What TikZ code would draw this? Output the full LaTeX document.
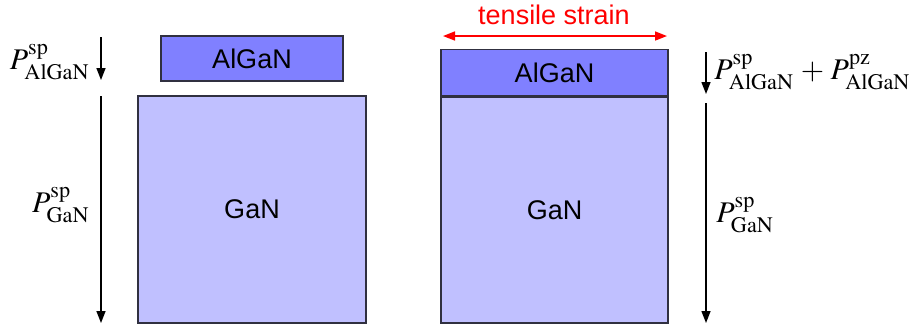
\documentclass[tikz,border=0pt]{standalone}
\usepackage{mathptmx}
\usepackage[no-math]{fontspec}
\setmainfont{Liberation Serif}
\newfontfamily\layerfont{Liberation Sans}
\usetikzlibrary{arrows.meta,positioning}
\definecolor{alganfill}{HTML}{8080FF}
\definecolor{ganfill}{HTML}{C0C0FF}
\definecolor{edgegray}{HTML}{303040}

\begin{document}
\begin{tikzpicture}[x=0.5pt,y=-0.5pt,
    layer/.style={draw=edgegray,line width=0.7pt,inner sep=0pt,
      font=\layerfont\fontsize{13.5}{16}\selectfont},
    pol/.style={-{Triangle[length=6pt,width=4.5pt]},line width=0.7pt},
    lbl/.style={font=\fontsize{15}{18}\selectfont,inner sep=1pt}]
    \useasboundingbox (0,0) rectangle (909,329);

    % Relaxed stack (left)
    \node[layer,fill=alganfill,minimum width=91pt,minimum height=22.5pt] (alganL) at (252,58.5) {AlGaN};
    \node[layer,fill=ganfill,minimum width=114pt,minimum height=113.5pt] (ganL) at (252,209.5) {GaN};

    % Strained stack (right)
    \node[layer,fill=ganfill,minimum width=113.5pt,minimum height=113pt] (ganR) at (554.5,210) {GaN};
    \node[layer,fill=alganfill,minimum width=113.5pt,minimum height=23pt,anchor=south] (alganR) at (ganR.north) {AlGaN};

    % Tensile strain
    \coordinate (strainW) at (443,36);
    \coordinate (strainE) at (667,36);
    \draw[red,line width=0.8pt,{Triangle[length=6pt,width=4.5pt]}-{Triangle[length=6pt,width=4.5pt]}] (strainW) -- (strainE);
    \node[red,font=\layerfont\fontsize{13.5}{16}\selectfont] (strain) at (554,15) {tensile strain};

    % Polarization arrows (left)
    \coordinate (pAlL1) at (101,37);
    \coordinate (pAlL2) at (101,80);
    \coordinate (pGaL1) at (101,96);
    \coordinate (pGaL2) at (101,323);
    \draw[pol] (pAlL1) -- (pAlL2);
    \draw[pol] (pGaL1) -- (pGaL2);
    \node[lbl,anchor=east] (spAlL) at (92,62) {$P^{\mathrm{sp}}_{\mathrm{AlGaN}}$};
    \node[lbl,anchor=east] (spGaL) at (92,205) {$P^{\mathrm{sp}}_{\mathrm{GaN}}$};

    % Polarization arrows (right)
    \coordinate (pAlR1) at (706,52);
    \coordinate (pAlR2) at (706,94);
    \coordinate (pGaR1) at (706,103);
    \coordinate (pGaR2) at (706,323);
    \draw[pol] (pAlR1) -- (pAlR2);
    \draw[pol] (pGaR1) -- (pGaR2);
    \node[lbl,anchor=west] (spzAlR) at (712,72) {$P^{\mathrm{sp}}_{\mathrm{AlGaN}}\mkern1.5mu+\mkern1.5mu P^{\mathrm{pz}}_{\mathrm{AlGaN}}$};
    \node[lbl,anchor=west] (spGaR) at (714,215) {$P^{\mathrm{sp}}_{\mathrm{GaN}}$};
\end{tikzpicture}
\end{document}
